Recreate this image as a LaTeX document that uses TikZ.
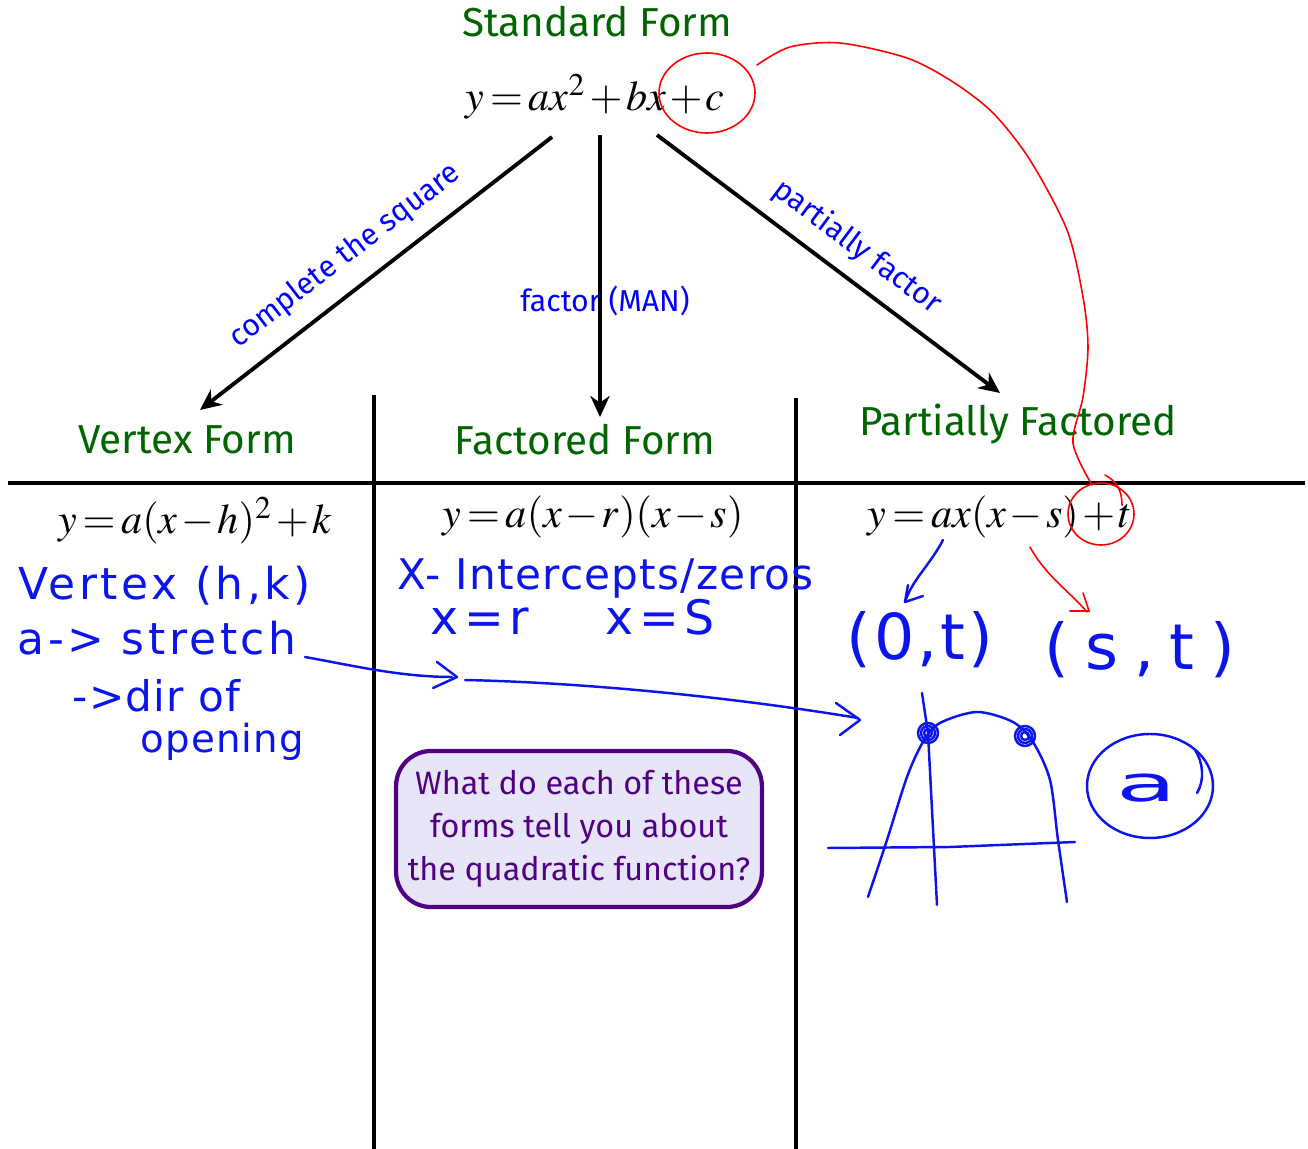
\documentclass[tikz,border=0pt]{standalone}
\usepackage{mathptmx}
\usepackage[no-math]{fontspec}
\setmainfont{Fira Sans}
\newfontfamily\handfont{DejaVu Sans}[LetterSpace=3]
\usepackage{tikz}
\usetikzlibrary{arrows.meta,positioning,calc}
\definecolor{titlegreen}{RGB}{0,100,0}
\definecolor{labelblue}{RGB}{0,0,255}
\definecolor{inkblue}{RGB}{10,20,235}
\definecolor{boxpurple}{RGB}{80,0,130}
\definecolor{boxfill}{RGB}{230,230,248}
\thickmuskip=2.5mu
\medmuskip=1.5mu

\begin{document}
\begin{tikzpicture}[x=0.01cm,y=-0.01cm,
  title/.style={font=\fontsize{11.5}{14}\selectfont,text=titlegreen},
  eqn/.style={font=\fontsize{12}{14}\selectfont},
  route/.style={font=\fontsize{8.6}{11}\selectfont,text=labelblue},
  arr/.style={-{Stealth[length=6pt,width=5.5pt]},line width=1.1pt},
  rule/.style={line width=1.2pt},
  hand/.style={font=\handfont\fontsize{12}{14}\selectfont,text=inkblue,inner sep=0pt},
  ink/.style={inkblue,line width=0.7pt,line cap=round,line join=round},
  redink/.style={red,line width=0.45pt,line cap=round}]
  \useasboundingbox (0,0) rectangle (1308,1149);

  % standard form at the top
  \node[title] (std) at (597,22) {Standard Form};
  \node[eqn] (stdeq) at (595,97) {$y=ax^2+bx+c$};

  % the three forms
  \node[title] (vtx) at (187,440) {Vertex Form};
  \node[title] (fac) at (585,440) {Factored Form};
  \node[title] (part) at (1018,424) {Partially Factored};

  % table rules
  \draw[rule] (8,483) -- (1305,483);
  \draw[rule] (374,395) -- (374,1149);
  \draw[rule] (796,398) -- (796,1149);

  % arrows from the standard form
  \coordinate (l0) at (552,137);
  \coordinate (l1) at (200,410);
  \coordinate (m0) at (600,135);
  \coordinate (m1) at (600,417);
  \coordinate (r0) at (657,135);
  \coordinate (r1) at (1000,393);
  \draw[arr] (l0) -- (l1);
  \draw[arr] (m0) -- (m1);
  \draw[arr] (r0) -- (r1);
  \node[route,rotate=37.5] (cts) at (345,256) {complete the square};
  \node[route] (man) at (605,301) {factor (MAN)};
  \node[route,rotate=-37] (pf) at (857,247) {partially factor};

  % equations under the rule
  \node[eqn] (vtxeq) at (195,521) {$y=a(x-h)^2+k$};
  \node[eqn] (faceq) at (593,517) {$y=a(x-r)(x-s)$};
  \node[eqn] (parteq) at (1000,517) {$y=ax(x-s)+t$};

  % notes under vertex form
  \node[hand,anchor=base west,font=\handfont\fontsize{12.5}{14}\selectfont\addfontfeature{LetterSpace=8}]
    (vnote) at (18,600) {Vertex (h,k)};
  \node[hand,anchor=base west,font=\handfont\fontsize{12.5}{14}\selectfont\addfontfeature{LetterSpace=8}]
    (snote) at (17,655) {a-> stretch};
  \node[hand,anchor=base west] (dnote) at (72,712) {->dir of};
  \node[hand,anchor=base west,font=\handfont\fontsize{11}{13}\selectfont] (onote) at (140,753) {opening};

  % notes under factored form
  \node[hand,anchor=base west] (xnote) at (397,590) {X- Intercepts/zeros};
  \node[hand,anchor=base west,font=\handfont\fontsize{13.5}{15}\selectfont\addfontfeature{LetterSpace=12}]
    (rnote) at (430,635) {x=r\hspace{1.6em}x=S};

  % notes under partially factored
  \node[hand,font=\handfont\fontsize{18}{20}\selectfont\addfontfeature{LetterSpace=5}]
    (pt0) at (920,640) {(0,t)};
  \node[hand,font=\handfont\fontsize{18}{20}\selectfont\addfontfeature{LetterSpace=25}]
    (pts) at (1140,650) {(s,t)};
  \draw[ink] (943,540) .. controls (930,565) and (912,580) .. (905,602);
  \draw[ink] (908,585) -- (905,602) -- (923,596);
  \draw[redink] (1030,547) .. controls (1045,575) and (1070,592) .. (1087,612);
  \draw[redink] (1083,593) -- (1089,611) -- (1070,611);

  % stretch arrow across to the graph
  \draw[ink] (305,657) .. controls (350,665) and (400,677) .. (452,677);
  \draw[ink] (437,662) -- (457,677) -- (433,688);
  \draw[ink] (465,680) .. controls (600,683) and (750,700) .. (858,718);
  \draw[ink] (836,703) -- (860,720) -- (840,735);

  % sketch of the graph
  \draw[ink] (828,848) -- (950,847) -- (1075,842);
  \draw[ink] (922,693) -- (928,733) -- (937,905);
  \draw[ink] plot[smooth] coordinates {(868,897) (887,840) (907,777) (923,742) (940,723)
    (977,712) (1013,722) (1033,742) (1050,780) (1058,840) (1067,902)};
  \foreach \cx/\cy in {928/733,1025/736} {
    \draw[ink] (\cx,\cy) circle [radius=10];
    \draw[ink] (\cx,\cy) circle [radius=7];
    \draw[ink] (\cx,\cy) circle [radius=4];
  }
  \node[hand,font=\handfont\fontsize{14}{16}\selectfont] (anote) at (1147,788) {\scalebox{2}[1]{a}};
  \draw[ink] (1150,786) ellipse [x radius=63, y radius=52];
  \draw[ink] (1195,750) .. controls (1203,762) and (1205,780) .. (1197,793);

  % red marks linking c and t
  \draw[redink] (707,93) ellipse [x radius=48, y radius=40];
  \draw[redink] plot[smooth] coordinates {(757,65) (790,47) (840,43) (907,58) (953,82)
    (993,113) (1030,160) (1067,230) (1083,297) (1088,347) (1083,397) (1073,443) (1092,485)};
  \draw[redink] (1101,514) ellipse [x radius=33, y radius=31];
  \draw[redink] (1105,475) .. controls (1118,482) and (1122,492) .. (1122,505);

  % question box
  \node[draw=boxpurple,fill=boxfill,line width=1.2pt,rounded corners=10pt,
    minimum width=3.63cm,minimum height=1.56cm,align=center,text=boxpurple,
    font=\fontsize{9.2}{12.2}\selectfont] (ask) at (579,829)
    {What do each of these\\forms tell you about\\the quadratic function?};
\end{tikzpicture}
\end{document}
